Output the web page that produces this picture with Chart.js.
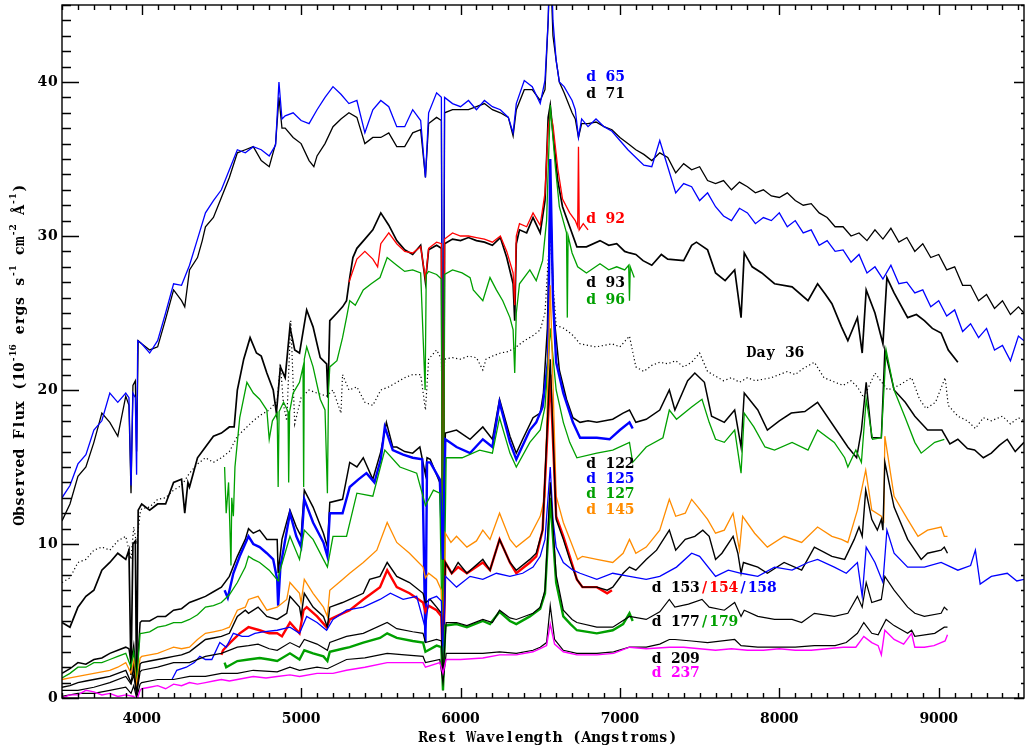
<!DOCTYPE html>
<html>
<head>
<meta charset="utf-8">
<title>Spectral evolution</title>
<script src="https://cdn.jsdelivr.net/npm/chart.js@4.4.1/dist/chart.umd.min.js"></script>
<style>
  html, body { margin: 0; padding: 0; background: #fff; }
  canvas { display: block; }
</style>
</head>
<body>
<canvas id="spectra" width="1025" height="749"></canvas>
<script>
// Spectra: [rest wavelength (A), flux (1e-16 erg/s/cm2/A)]
const d65 = [[3500,13.0],[3550,13.8],[3600,15.2],[3650,15.8],[3700,17.4],[3750,18.0],[3800,19.8],[3850,19.2],[3900,19.8],[3920,19.5],[3933,13.8],[3945,19.8],[3960,19.5],[3968,14.5],[3975,23.2],[4000,23.0],[4050,22.4],[4100,23.2],[4150,25.0],[4200,26.9],[4250,26.8],[4300,28.1],[4350,29.8],[4400,31.5],[4450,32.3],[4500,33.0],[4550,34.3],[4600,35.6],[4650,35.4],[4700,35.8],[4750,35.6],[4800,35.2],[4840,35.9],[4861,40.0],[4880,37.6],[4900,37.8],[4950,38.0],[5000,37.5],[5050,37.3],[5100,38.2],[5150,39.0],[5200,39.7],[5250,39.2],[5300,38.6],[5350,38.8],[5400,36.7],[5450,38.2],[5500,38.8],[5550,38.4],[5600,37.1],[5650,37.1],[5700,38.2],[5750,37.5],[5780,33.8],[5800,38.0],[5850,39.3],[5880,39.0],[5890,10.0],[5900,39.0],[5950,38.6],[6000,38.4],[6050,38.8],[6100,38.2],[6150,38.8],[6200,38.4],[6250,38.2],[6300,37.7],[6330,36.7],[6350,38.6],[6400,40.1],[6450,39.7],[6500,38.6],[6530,40.1],[6550,44.0],[6563,50.0],[6580,44.0],[6600,41.4],[6620,40.0],[6650,39.7],[6700,38.8],[6720,38.2],[6740,36.4],[6760,37.6],[6800,37.1],[6850,37.6],[6900,37.1],[6950,36.8],[7000,36.2],[7050,35.6],[7100,35.1],[7150,34.6],[7200,34.5],[7250,36.2],[7300,34.5],[7350,32.8],[7400,33.4],[7450,33.2],[7500,32.3],[7550,32.8],[7600,31.9],[7650,31.3],[7700,31.0],[7750,31.8],[7800,31.5],[7850,30.8],[7900,31.2],[7950,31.0],[8000,31.5],[8050,30.6],[8100,31.0],[8150,30.2],[8200,30.4],[8250,29.4],[8300,29.7],[8350,29.0],[8400,29.1],[8450,28.3],[8500,28.8],[8550,27.6],[8600,28.0],[8650,27.2],[8700,28.1],[8750,26.9],[8800,27.0],[8850,26.3],[8900,26.5],[8950,25.4],[9000,25.8],[9050,24.8],[9100,25.2],[9150,23.8],[9200,24.3],[9250,23.4],[9300,24.0],[9350,22.6],[9400,22.9],[9450,21.9],[9500,23.5],[9535,23.2]];

const d71 = [[3500,11.5],[3550,12.6],[3600,14.4],[3650,15.0],[3700,16.6],[3750,18.5],[3800,17.9],[3850,17.0],[3900,19.6],[3920,19.0],[3933,13.3],[3945,20.3],[3960,20.6],[3968,16.0],[3978,23.2],[4000,23.0],[4050,22.6],[4100,22.8],[4150,24.6],[4200,26.5],[4250,25.8],[4270,25.4],[4300,27.8],[4350,28.6],[4380,29.7],[4400,30.6],[4450,31.2],[4500,32.5],[4550,33.8],[4600,35.4],[4650,35.6],[4700,35.8],[4750,34.9],[4800,34.5],[4840,36.0],[4861,39.0],[4880,37.0],[4900,37.0],[4950,36.4],[5000,36.0],[5050,34.9],[5080,34.5],[5100,35.2],[5150,36.0],[5200,37.1],[5250,37.6],[5300,38.0],[5350,37.7],[5400,36.0],[5450,36.4],[5500,36.4],[5550,36.7],[5600,35.8],[5650,35.8],[5700,36.7],[5750,36.9],[5780,33.8],[5800,37.3],[5850,37.7],[5880,37.5],[5890,1.0],[5900,38.0],[5950,38.2],[6000,38.2],[6050,38.2],[6100,38.4],[6150,38.6],[6200,38.2],[6250,38.0],[6300,37.7],[6330,36.5],[6350,38.2],[6400,39.5],[6450,39.5],[6500,38.8],[6530,39.5],[6550,44.0],[6563,48.0],[6580,43.0],[6600,41.4],[6620,40.0],[6650,39.3],[6700,38.0],[6720,37.6],[6740,36.4],[6760,37.3],[6800,37.3],[6850,37.4],[6900,37.1],[6950,36.9],[7000,36.4],[7050,36.0],[7100,35.6],[7150,35.3],[7200,34.9],[7250,35.4],[7300,35.1],[7350,34.1],[7400,34.7],[7450,34.3],[7500,34.5],[7550,33.6],[7600,33.4],[7650,33.6],[7700,33.0],[7750,33.5],[7800,33.2],[7850,32.8],[7900,33.0],[7950,32.6],[8000,32.5],[8050,32.8],[8100,32.3],[8150,32.0],[8200,32.1],[8250,31.5],[8300,31.2],[8350,30.6],[8400,30.6],[8450,30.0],[8500,30.2],[8550,29.7],[8600,30.4],[8650,29.8],[8700,30.5],[8750,29.6],[8800,29.9],[8850,29.0],[8900,29.5],[8950,28.6],[9000,28.8],[9050,27.8],[9100,28.0],[9150,26.8],[9200,26.8],[9250,25.8],[9300,26.2],[9350,25.3],[9400,25.8],[9450,24.9],[9500,25.4],[9535,25.0]];

const day36 = [[3500,7.5],[3550,7.8],[3600,8.8],[3650,9.0],[3700,9.6],[3750,9.8],[3800,9.6],[3850,10.2],[3900,10.5],[3933,9.0],[3950,11.1],[3968,10.0],[3990,12.0],[4000,12.3],[4050,12.4],[4100,12.9],[4150,13.0],[4200,13.5],[4250,13.8],[4300,14.6],[4350,15.2],[4400,15.6],[4450,15.3],[4500,15.6],[4550,16.0],[4600,17.0],[4650,17.5],[4700,18.0],[4750,18.4],[4800,18.7],[4850,19.3],[4870,21.7],[4890,19.0],[4910,18.0],[4935,24.5],[4960,17.8],[5000,19.5],[5050,20.0],[5100,19.8],[5160,19.6],[5200,20.0],[5250,18.5],[5260,21.0],[5300,20.0],[5350,20.2],[5400,19.2],[5450,19.0],[5500,20.0],[5550,20.2],[5600,20.5],[5650,20.8],[5700,21.0],[5750,21.0],[5780,18.7],[5800,22.0],[5850,22.6],[5880,22.0],[5890,15.0],[5900,22.0],[5950,22.1],[6000,22.0],[6050,22.2],[6100,22.1],[6140,21.3],[6160,22.0],[6200,22.2],[6250,22.4],[6300,22.5],[6350,22.8],[6400,23.2],[6450,23.5],[6500,23.9],[6530,25.0],[6550,28.5],[6563,30.0],[6580,27.0],[6600,24.2],[6650,24.0],[6700,23.6],[6750,23.0],[6800,22.9],[6850,22.8],[6900,22.9],[6950,23.0],[7000,22.8],[7060,23.5],[7100,21.5],[7150,21.2],[7200,21.6],[7250,21.8],[7300,21.7],[7350,21.9],[7400,21.5],[7450,21.8],[7500,22.4],[7550,21.2],[7600,20.9],[7650,20.6],[7700,20.8],[7750,20.5],[7800,20.8],[7850,20.6],[7900,20.7],[7950,20.8],[8000,21.0],[8050,21.2],[8100,21.0],[8150,21.4],[8220,21.8],[8280,20.8],[8350,20.5],[8400,20.3],[8450,20.6],[8490,20.2],[8530,19.5],[8600,21.1],[8680,20.0],[8750,20.3],[8830,20.8],[8880,19.4],[8920,18.8],[8980,19.2],[9040,20.8],[9060,19.0],[9120,18.3],[9180,18.0],[9230,17.5],[9280,18.2],[9330,18.0],[9400,18.3],[9450,17.8],[9500,18.2],[9535,18.0]];

const d92 = [[5300,27.0],[5350,28.5],[5400,29.0],[5450,28.5],[5480,28.0],[5500,29.5],[5550,30.2],[5600,29.5],[5650,29.0],[5700,28.9],[5750,29.3],[5780,27.2],[5800,29.2],[5850,29.6],[5880,29.5],[5890,3.0],[5900,29.8],[5950,30.2],[6000,30.0],[6050,30.0],[6100,29.9],[6150,29.8],[6200,29.6],[6250,30.0],[6290,29.0],[6330,27.6],[6340,25.5],[6350,30.0],[6370,30.8],[6415,30.6],[6455,31.5],[6500,30.7],[6530,32.8],[6550,37.0],[6563,38.0],[6580,37.2],[6610,34.4],[6640,32.4],[6685,31.5],[6720,31.0],[6735,30.6],[6740,35.8],[6745,30.4],[6770,30.8],[6800,30.4]];

const d93 = [[3500,4.9],[3550,4.6],[3600,5.9],[3650,6.6],[3700,7.0],[3750,8.3],[3800,8.8],[3850,9.4],[3900,9.0],[3920,9.6],[3933,1.5],[3945,10.0],[3960,10.2],[3968,0.5],[3978,12.2],[4000,12.6],[4050,12.2],[4100,12.6],[4150,12.6],[4200,14.0],[4250,14.2],[4270,12.0],[4290,14.0],[4300,13.7],[4350,15.6],[4400,16.3],[4450,17.0],[4500,17.2],[4550,17.6],[4580,17.6],[4600,20.0],[4640,22.0],[4680,23.4],[4720,22.4],[4750,22.2],[4785,21.1],[4825,20.0],[4845,18.5],[4870,21.5],[4900,20.8],[4930,24.1],[4960,22.6],[4990,22.4],[5035,25.2],[5075,24.1],[5120,22.1],[5160,21.7],[5168,19.5],[5180,24.5],[5225,25.0],[5260,25.4],[5285,25.8],[5305,27.3],[5325,28.6],[5350,29.2],[5400,29.8],[5450,30.4],[5500,31.5],[5550,30.7],[5600,29.7],[5650,29.1],[5700,28.8],[5750,29.4],[5780,27.0],[5800,29.1],[5850,29.4],[5880,29.2],[5890,0.5],[5900,29.5],[5950,29.8],[6000,29.7],[6050,29.9],[6100,29.7],[6150,29.6],[6200,29.4],[6250,29.9],[6290,28.6],[6330,26.9],[6340,24.5],[6350,29.5],[6370,30.4],[6415,30.2],[6455,31.2],[6500,30.2],[6530,32.3],[6550,37.7],[6563,38.5],[6580,36.7],[6610,33.6],[6640,31.9],[6685,30.6],[6730,29.3],[6790,29.3],[6875,29.7],[6930,29.4],[6980,29.5],[7030,29.0],[7060,28.9],[7100,28.8],[7145,28.4],[7200,28.1],[7260,28.8],[7300,28.5],[7400,28.4],[7450,29.4],[7480,29.6],[7550,29.1],[7600,27.6],[7660,27.1],[7720,27.8],[7760,24.7],[7780,28.9],[7830,28.0],[7890,27.6],[7970,26.9],[8080,26.7],[8180,25.8],[8240,26.9],[8290,26.2],[8330,25.6],[8390,24.1],[8430,23.2],[8490,24.7],[8520,22.4],[8545,26.5],[8600,25.0],[8650,23.0],[8675,27.3],[8720,26.3],[8805,24.7],[8860,24.9],[8910,24.5],[8960,24.0],[9015,23.7],[9060,22.6],[9120,21.8]];

const d96 = [[4520,15.0],[4530,12.0],[4545,14.0],[4560,8.6],[4565,13.0],[4575,11.8],[4585,15.0],[4615,18.2],[4660,20.5],[4700,19.8],[4740,19.4],[4785,18.7],[4800,16.8],[4820,18.0],[4850,18.5],[4856,13.7],[4862,18.6],[4890,19.2],[4918,18.6],[4922,14.0],[4928,18.6],[4950,19.8],[4990,20.5],[5012,21.5],[5016,13.7],[5020,22.0],[5035,22.8],[5075,21.5],[5120,19.4],[5150,18.7],[5165,13.3],[5172,20.0],[5180,21.5],[5225,21.9],[5260,23.4],[5285,24.7],[5305,25.8],[5340,25.5],[5390,26.5],[5440,26.9],[5495,27.3],[5540,28.6],[5600,28.1],[5650,27.7],[5700,27.8],[5750,27.6],[5778,20.0],[5785,27.5],[5800,27.7],[5850,27.5],[5880,27.2],[5890,0.8],[5900,27.5],[5950,27.8],[6010,27.6],[6060,27.3],[6080,26.5],[6140,25.8],[6185,27.3],[6225,26.5],[6265,25.8],[6310,24.7],[6330,23.9],[6340,21.1],[6350,25.0],[6370,26.9],[6435,27.8],[6475,27.1],[6515,28.4],[6540,31.0],[6563,38.5],[6595,34.5],[6620,31.9],[6665,30.2],[6670,24.7],[6675,30.0],[6700,28.9],[6735,28.0],[6790,27.6],[6875,28.2],[6930,27.8],[6980,28.0],[7030,27.8],[7055,28.1],[7060,25.8],[7065,28.0],[7090,27.3]];

const d122 = [[3500,1.6],[3550,1.9],[3600,2.3],[3650,2.2],[3700,2.5],[3750,2.6],[3800,2.9],[3850,3.1],[3900,3.3],[3920,3.2],[3933,2.3],[3950,3.4],[3968,1.2],[3990,4.9],[4000,5.0],[4050,5.0],[4100,5.3],[4150,5.3],[4200,5.7],[4250,5.8],[4300,6.2],[4350,6.4],[4400,6.6],[4450,6.9],[4500,7.2],[4550,7.9],[4600,9.2],[4650,10.3],[4670,11.0],[4700,10.7],[4740,10.9],[4785,10.3],[4850,10.3],[4856,8.1],[4880,10.3],[4930,12.2],[4970,11.1],[5000,10.5],[5020,13.5],[5075,12.4],[5140,10.7],[5165,9.8],[5180,12.7],[5260,12.9],[5305,15.3],[5350,15.0],[5390,15.6],[5450,14.2],[5500,16.0],[5535,17.9],[5575,16.3],[5600,16.3],[5650,16.0],[5700,15.9],[5745,16.3],[5780,14.5],[5790,15.6],[5810,15.5],[5870,14.0],[5890,9.0],[5905,17.2],[5975,17.4],[6060,16.8],[6140,17.6],[6200,16.8],[6245,19.4],[6310,17.0],[6350,15.9],[6390,16.8],[6455,18.2],[6500,18.5],[6520,19.8],[6545,24.0],[6563,33.0],[6585,25.0],[6620,21.3],[6665,19.4],[6705,18.2],[6750,17.9],[6800,18.0],[6855,17.9],[6955,18.1],[7020,18.5],[7060,18.7],[7100,17.9],[7165,18.1],[7250,18.7],[7310,20.0],[7345,18.7],[7425,20.6],[7470,21.1],[7530,20.5],[7575,18.3],[7655,17.9],[7720,18.7],[7760,16.3],[7780,19.8],[7865,18.7],[7925,17.4],[8000,18.0],[8075,18.5],[8160,18.6],[8240,19.2],[8345,17.6],[8430,16.3],[8485,15.6],[8515,17.4],[8545,20.5],[8580,16.9],[8640,16.9],[8662,22.6],[8720,20.0],[8790,19.2],[8850,18.3],[8930,17.4],[9020,17.4],[9070,16.5],[9120,16.8],[9180,16.2],[9225,16.1],[9280,15.6],[9330,15.9],[9380,16.4],[9430,16.8],[9480,16.0],[9535,16.6]];

const d125 = [[4520,7.0],[4540,6.5],[4575,8.1],[4615,9.2],[4670,10.5],[4700,10.0],[4740,9.8],[4785,9.4],[4825,9.0],[4850,7.7],[4856,6.0],[4870,8.5],[4930,12.0],[4970,10.5],[5000,9.8],[5020,12.9],[5075,11.4],[5140,10.1],[5165,9.2],[5180,12.0],[5260,12.0],[5305,13.7],[5360,14.2],[5410,14.6],[5460,14.0],[5500,15.5],[5525,17.6],[5575,16.1],[5640,15.8],[5700,15.6],[5760,15.5],[5780,3.6],[5790,15.3],[5810,15.3],[5870,14.2],[5888,9.0],[5905,16.8],[5975,16.3],[6060,15.9],[6140,16.8],[6200,16.3],[6245,19.2],[6310,16.6],[6350,15.5],[6435,17.4],[6475,17.9],[6515,18.9],[6550,22.0],[6563,35.0],[6580,26.0],[6600,21.8],[6645,19.8],[6705,17.9],[6750,16.9],[6800,16.9],[6855,16.9],[6935,16.8],[7000,17.4],[7060,17.9],[7080,17.5]];

const d127 = [[3500,1.3],[3550,1.6],[3600,2.0],[3650,2.0],[3700,2.3],[3750,2.3],[3800,2.5],[3850,2.7],[3900,2.9],[3933,2.0],[3950,3.0],[3968,1.0],[3990,4.2],[4000,4.2],[4050,4.3],[4100,4.6],[4150,4.7],[4200,4.9],[4250,4.9],[4300,5.1],[4350,5.4],[4400,5.9],[4450,6.0],[4500,6.2],[4550,6.7],[4600,7.5],[4650,8.5],[4670,9.2],[4700,9.0],[4740,8.8],[4800,8.3],[4856,7.6],[4860,8.0],[4930,10.5],[4990,9.0],[5020,10.9],[5075,10.3],[5140,9.0],[5165,8.5],[5200,10.5],[5285,10.5],[5350,13.3],[5450,13.1],[5525,16.1],[5620,15.0],[5725,14.6],[5780,12.5],[5830,13.5],[5870,13.3],[5890,1.0],[5910,15.6],[6010,15.6],[6120,16.1],[6200,15.9],[6245,18.2],[6310,15.9],[6350,15.0],[6435,16.6],[6500,17.4],[6530,18.9],[6563,24.0],[6600,20.0],[6645,17.9],[6685,16.6],[6730,15.6],[6855,15.9],[6955,16.1],[7060,16.6],[7080,15.3],[7165,16.3],[7270,16.9],[7310,18.7],[7355,18.1],[7450,18.9],[7515,19.4],[7560,17.9],[7600,16.8],[7655,16.6],[7720,17.4],[7760,14.6],[7780,18.5],[7840,17.6],[7910,16.3],[7970,16.1],[8080,16.6],[8180,16.1],[8240,17.4],[8345,16.6],[8410,15.6],[8430,15.0],[8480,16.1],[8515,15.3],[8545,19.4],[8585,16.8],[8640,16.9],[8670,22.6],[8720,20.0],[8790,18.2],[8850,16.6],[8890,15.9],[8975,16.6],[9035,16.8]];

const d145 = [[3500,1.2],[3550,1.3],[3600,1.4],[3650,1.5],[3700,1.6],[3750,1.7],[3800,1.8],[3850,2.0],[3900,2.3],[3933,1.6],[3950,2.4],[3968,0.8],[3990,2.6],[4000,2.7],[4050,2.8],[4100,2.9],[4150,3.1],[4200,3.3],[4250,3.2],[4300,3.3],[4350,3.8],[4400,4.2],[4450,4.3],[4500,4.4],[4550,4.6],[4600,5.7],[4650,5.9],[4670,6.4],[4730,6.6],[4785,5.7],[4850,5.9],[4910,6.4],[4930,7.5],[4990,6.8],[5000,6.2],[5020,7.7],[5075,6.8],[5140,5.9],[5165,5.3],[5180,7.0],[5260,7.7],[5305,8.1],[5390,8.8],[5475,9.6],[5540,11.4],[5600,10.1],[5680,9.4],[5765,8.5],[5780,7.8],[5800,8.1],[5850,7.7],[5880,7.0],[5890,1.0],[5905,10.7],[5940,10.1],[5975,10.5],[6040,9.8],[6100,10.2],[6140,10.9],[6185,10.3],[6245,12.0],[6310,10.3],[6350,9.8],[6435,10.5],[6500,11.8],[6530,13.1],[6563,26.8],[6600,13.1],[6645,11.4],[6705,9.8],[6735,9.0],[6765,9.2],[6855,9.0],[6955,8.8],[7020,9.4],[7060,10.3],[7100,9.4],[7165,9.8],[7250,10.9],[7310,12.9],[7350,11.8],[7410,12.0],[7450,12.9],[7490,12.4],[7550,11.6],[7600,10.7],[7655,10.9],[7710,12.0],[7750,9.6],[7770,11.8],[7845,10.7],[7925,9.8],[8030,10.5],[8140,10.1],[8240,11.1],[8330,10.5],[8390,10.3],[8430,10.1],[8490,12.2],[8542,14.8],[8580,12.2],[8640,11.8],[8655,11.5],[8662,17.0],[8720,13.1],[8805,11.6],[8870,10.5],[8930,10.9],[9015,11.1],[9035,10.5],[9055,10.5]];

const d153 = [[3500,0.7],[3550,0.8],[3600,1.0],[3650,1.1],[3700,1.2],[3750,1.3],[3800,1.4],[3850,1.6],[3900,1.8],[3933,1.0],[3950,2.0],[3968,0.3],[3990,2.2],[4000,2.3],[4050,2.4],[4100,2.5],[4150,2.6],[4200,2.7],[4250,2.8],[4300,3.0],[4350,3.4],[4400,3.8],[4450,3.9],[4500,4.0],[4550,4.2],[4600,5.3],[4650,5.7],[4670,5.5],[4730,5.9],[4785,5.3],[4850,5.1],[4910,5.5],[4930,6.6],[4990,5.9],[5000,5.3],[5020,6.8],[5075,5.9],[5140,5.3],[5165,4.6],[5180,5.9],[5260,6.2],[5305,6.4],[5390,6.8],[5430,7.7],[5495,7.9],[5540,8.8],[5600,7.9],[5680,7.5],[5765,6.8],[5780,6.2],[5810,6.4],[5850,5.9],[5880,5.5],[5890,0.5],[5905,8.8],[5945,8.1],[5985,8.8],[6040,8.1],[6140,9.0],[6185,8.3],[6245,10.3],[6310,8.8],[6350,8.3],[6435,9.0],[6475,9.4],[6515,10.9],[6563,22.0],[6600,11.6],[6645,10.3],[6685,9.0],[6730,7.7],[6765,7.2],[6855,7.2],[6920,7.0],[6955,7.2],[7020,8.1],[7060,8.5],[7100,8.3],[7165,9.0],[7230,9.6],[7310,10.9],[7350,9.6],[7410,10.3],[7470,10.5],[7520,10.9],[7560,10.5],[7600,9.0],[7640,9.4],[7710,10.5],[7740,9.4],[7760,8.1],[7775,8.8],[7865,8.5],[7925,8.1],[8030,8.8],[8140,8.3],[8220,9.8],[8330,9.2],[8410,9.0],[8470,10.3],[8500,11.1],[8520,10.5],[8542,13.5],[8580,11.6],[8615,10.9],[8640,11.6],[8650,10.9],[8662,15.3],[8720,12.4],[8805,10.3],[8890,9.0],[8930,9.4],[9015,9.6],[9035,9.8],[9055,9.4]];

const d154 = [[4500,2.8],[4510,3.1],[4555,3.6],[4615,4.2],[4670,4.6],[4740,4.4],[4800,4.2],[4850,4.2],[4880,4.0],[4930,4.9],[4990,4.2],[5015,5.7],[5035,5.9],[5100,5.3],[5160,4.6],[5180,5.1],[5260,5.5],[5305,5.7],[5390,6.4],[5495,7.2],[5540,8.3],[5600,7.2],[5680,6.8],[5765,6.2],[5780,5.6],[5800,6.0],[5850,5.7],[5880,5.3],[5890,1.5],[5905,8.8],[5945,8.1],[5985,8.5],[6040,8.1],[6140,8.8],[6185,8.3],[6245,10.3],[6310,8.8],[6350,8.1],[6435,8.8],[6475,9.2],[6515,10.9],[6563,21.0],[6600,11.8],[6645,10.5],[6685,9.2],[6730,7.7],[6765,7.2],[6855,7.2],[6920,6.8],[6950,7.0]];

const d158 = [[4190,1.2],[4220,1.8],[4280,2.0],[4330,2.3],[4365,2.7],[4400,2.5],[4440,2.5],[4490,3.6],[4530,3.3],[4575,4.2],[4630,4.0],[4670,4.0],[4710,4.2],[4760,4.3],[4850,4.4],[4930,4.6],[4990,4.2],[5035,5.3],[5100,4.9],[5160,4.4],[5200,5.1],[5285,5.7],[5390,5.9],[5495,6.4],[5560,6.8],[5640,6.4],[5725,6.6],[5780,4.5],[5800,6.4],[5850,6.6],[5880,6.3],[5890,2.0],[5905,7.9],[5975,7.2],[6060,7.9],[6140,7.7],[6225,8.1],[6310,7.9],[6390,8.1],[6455,8.5],[6500,9.2],[6530,10.3],[6563,15.0],[6580,11.6],[6600,9.8],[6645,8.8],[6705,8.3],[6750,8.1],[6855,7.7],[6955,8.1],[7060,7.9],[7165,7.7],[7250,7.9],[7355,8.5],[7450,9.4],[7500,9.2],[7600,7.9],[7680,8.3],[7760,8.1],[7865,7.9],[7970,8.5],[8080,8.3],[8180,8.8],[8240,9.0],[8345,8.5],[8420,8.1],[8490,8.8],[8520,6.6],[8545,9.8],[8600,8.8],[8650,7.5],[8675,10.9],[8720,9.4],[8805,8.5],[8910,8.5],[9015,8.8],[9120,8.3],[9200,8.6],[9230,9.6],[9260,7.4],[9330,7.9],[9430,8.1],[9490,7.6],[9535,7.7]];

const d177 = [[3500,0.5],[3600,0.5],[3700,0.7],[3800,1.0],[3900,1.4],[3933,0.9],[3950,1.5],[3968,0.2],[3990,1.7],[4000,1.8],[4100,2.0],[4200,2.3],[4300,2.3],[4400,2.7],[4500,2.9],[4600,3.3],[4670,3.4],[4730,3.5],[4800,3.2],[4850,3.1],[4930,3.6],[4990,3.3],[5020,3.8],[5100,3.5],[5165,3.1],[5180,3.6],[5285,4.0],[5390,4.2],[5540,4.9],[5600,4.5],[5700,4.3],[5765,4.2],[5780,3.6],[5850,3.8],[5880,3.7],[5890,1.5],[5910,4.9],[5975,4.9],[6040,4.7],[6140,5.1],[6200,4.9],[6245,5.7],[6310,5.2],[6350,5.1],[6455,5.5],[6500,5.9],[6530,7.0],[6563,14.0],[6600,8.0],[6645,5.7],[6700,5.1],[6730,4.9],[6855,4.6],[6955,4.6],[7060,5.3],[7165,5.1],[7250,5.6],[7310,6.4],[7345,5.9],[7430,6.1],[7515,6.4],[7560,5.9],[7655,5.7],[7720,6.2],[7760,5.3],[7780,5.7],[7865,5.3],[7970,5.1],[8080,5.1],[8140,4.9],[8220,5.5],[8345,5.3],[8430,5.5],[8490,6.6],[8520,5.9],[8545,7.5],[8580,6.2],[8640,6.4],[8662,7.9],[8720,7.0],[8805,5.9],[8850,5.5],[8910,5.3],[9015,5.5],[9035,5.9],[9055,5.7]];

const d179 = [[4520,2.3],[4530,2.0],[4600,2.4],[4670,2.5],[4740,2.6],[4800,2.5],[4850,2.4],[4930,2.9],[4990,2.5],[5020,3.1],[5075,2.9],[5140,2.7],[5165,2.4],[5180,3.0],[5260,3.2],[5305,3.3],[5390,3.6],[5495,3.9],[5540,4.2],[5600,3.9],[5700,3.7],[5765,3.6],[5780,3.0],[5850,3.4],[5880,3.3],[5890,0.5],[5905,4.7],[5975,4.8],[6040,4.6],[6140,5.0],[6185,4.8],[6245,5.6],[6310,5.0],[6350,4.8],[6435,5.3],[6500,5.8],[6530,6.8],[6563,13.0],[6600,7.5],[6645,5.3],[6690,4.8],[6730,4.4],[6855,4.2],[6955,4.4],[7020,4.8],[7060,5.5],[7080,5.0]];

const d209 = [[3500,0.1],[3600,0.3],[3700,0.3],[3800,0.5],[3900,0.7],[3933,0.3],[3950,0.8],[3968,0.0],[3990,0.9],[4000,1.0],[4100,1.2],[4200,1.2],[4300,1.4],[4400,1.4],[4500,1.6],[4600,1.6],[4700,1.8],[4850,1.7],[4930,2.0],[4990,1.8],[5100,2.0],[5165,1.9],[5285,2.5],[5400,2.6],[5540,2.9],[5650,2.8],[5765,2.7],[5780,2.3],[5870,2.5],[5890,1.0],[5910,2.9],[6000,2.9],[6140,2.9],[6245,3.0],[6350,2.9],[6455,3.1],[6500,3.3],[6540,3.6],[6563,6.0],[6590,3.8],[6645,3.1],[6730,2.9],[6855,2.9],[6960,3.0],[7060,3.3],[7165,3.3],[7250,3.5],[7310,3.8],[7345,3.8],[7450,3.7],[7550,3.6],[7720,3.8],[7760,3.4],[7865,3.3],[7970,3.3],[8100,3.3],[8220,3.4],[8350,3.4],[8420,3.6],[8490,4.2],[8530,4.9],[8580,4.2],[8620,4.1],[8670,5.1],[8720,4.7],[8805,4.2],[8830,4.4],[8850,4.0],[8975,4.2],[9035,4.6],[9055,4.6]];

const d237 = [[3500,0.0],[3550,0.2],[3600,0.2],[3650,0.5],[3700,0.4],[3750,0.2],[3800,0.3],[3850,0.1],[3900,0.2],[3950,0.1],[3968,-0.2],[3990,0.5],[4000,0.6],[4050,0.7],[4100,0.8],[4150,0.6],[4200,0.9],[4250,0.8],[4300,1.0],[4350,0.9],[4400,1.0],[4450,1.1],[4500,1.2],[4550,1.1],[4600,1.2],[4650,1.3],[4700,1.4],[4780,1.3],[4850,1.4],[4930,1.5],[4990,1.4],[5100,1.6],[5200,1.6],[5285,1.8],[5400,2.0],[5540,2.3],[5650,2.3],[5765,2.3],[5780,2.0],[5870,2.3],[5890,1.6],[5910,2.5],[6000,2.5],[6140,2.6],[6245,2.8],[6350,2.8],[6455,3.0],[6500,3.2],[6540,3.4],[6563,4.8],[6590,3.5],[6645,3.0],[6730,2.8],[6855,2.8],[6960,2.9],[7060,3.3],[7165,3.2],[7310,3.3],[7400,3.3],[7500,3.2],[7600,3.1],[7700,3.2],[7800,3.1],[7900,3.1],[8000,3.2],[8100,3.1],[8200,3.1],[8300,3.2],[8400,3.3],[8480,3.3],[8530,4.0],[8580,3.6],[8620,3.4],[8640,2.8],[8662,4.4],[8720,3.8],[8780,3.5],[8830,4.2],[8850,3.3],[8910,3.3],[8970,3.4],[9015,3.6],[9040,3.7],[9055,4.1]];

// axis ticks
const xMajorTicks = [4000, 5000, 6000, 7000, 8000, 9000];
const yMajorTicks = [0, 10, 20, 30, 40];

const BLUE = '#0000ff', BLACK = '#000000', RED = '#ff0000', GREEN = '#00a000', ORANGE = '#ff8c00', MAGENTA = '#ff00ff';

// bottom-most first
const series = [
    { label: 'Day 36', data: day36, color: BLACK, width: 1.2, dash: [1.2, 2.6] },
    { label: 'd 71', data: d71, color: BLACK, width: 1.3 },
    { label: 'd 65', data: d65, color: BLUE, width: 1.3 },
    { label: 'd 93', data: d93, color: BLACK, width: 1.7 },
    { label: 'd 92', data: d92, color: RED, width: 1.3 },
    { label: 'd 96', data: d96, color: GREEN, width: 1.3 },
    { label: 'd 122', data: d122, color: BLACK, width: 1.5 },
    { label: 'd 125', data: d125, color: BLUE, width: 2.4 },
    { label: 'd 127', data: d127, color: GREEN, width: 1.3 },
    { label: 'd 145', data: d145, color: ORANGE, width: 1.3 },
    { label: 'd 154', data: d154, color: RED, width: 2.4 },
    { label: 'd 153', data: d153, color: BLACK, width: 1.4 },
    { label: 'd 158', data: d158, color: BLUE, width: 1.3 },
    { label: 'd 179', data: d179, color: GREEN, width: 2.4 },
    { label: 'd 177', data: d177, color: BLACK, width: 1.2 },
    { label: 'd 209', data: d209, color: BLACK, width: 1.2 },
    { label: 'd 237', data: d237, color: MAGENTA, width: 1.4 },
];

// epoch labels placed in data coordinates
const notes = [
    { x: 6790, y: 40.3, parts: [['d 65', BLUE]] },
    { x: 6790, y: 39.2, parts: [['d 71', BLACK]] },
    { x: 6790, y: 31.1, parts: [['d 92', RED]] },
    { x: 6790, y: 26.9, parts: [['d 93', BLACK]] },
    { x: 6790, y: 25.8, parts: [['d 96', GREEN]] },
    { x: 7795, y: 22.4, parts: [['Day 36', BLACK]] },
    { x: 6790, y: 15.2, parts: [['d 122', BLACK]] },
    { x: 6790, y: 14.2, parts: [['d 125', BLUE]] },
    { x: 6790, y: 13.2, parts: [['d 127', GREEN]] },
    { x: 6790, y: 12.2, parts: [['d 145', ORANGE]] },
    { x: 7200, y: 7.1, parts: [['d 153', BLACK], ['/154', RED], ['/158', BLUE]] },
    { x: 7200, y: 4.9, parts: [['d 177', BLACK], ['/179', GREEN]] },
    { x: 7200, y: 2.5, parts: [['d 209', BLACK]] },
    { x: 7200, y: 1.6, parts: [['d 237', MAGENTA]] },
];

const FONT = 'bold 14px "DejaVu Serif"';
const SUP_FONT = 'bold 9px "DejaVu Serif"';
const PITCH = 9.6;

// fixed-pitch text, one glyph per cell; returns the x after the last cell
function drawMono(ctx, text, x, y, color, font, pitch) {
    ctx.font = font || FONT;
    pitch = pitch || PITCH;
    ctx.fillStyle = color || BLACK;
    ctx.textAlign = 'center';
    ctx.textBaseline = 'middle';
    for (let i = 0; i < text.length; i++) {
        const ch = text[i];
        if (ch === ' ') continue;
        const w = ctx.measureText(ch).width;
        const sx = Math.min(1, (pitch + 0.6) / w);
        ctx.save();
        ctx.translate(x + pitch * (i + 0.5), y);
        ctx.scale(sx, 1);
        ctx.fillText(ch, 0, 0);
        ctx.restore();
    }
    return x + pitch * text.length;
}

const axesPlugin = {
    id: 'axesPlugin',
    afterDatasetsDraw(chart) {
        const ctx = chart.ctx;
        const { left, right, top, bottom } = chart.chartArea;
        const xs = chart.scales.x, ys = chart.scales.y;
        ctx.save();
        ctx.strokeStyle = BLACK;
        ctx.lineWidth = 1.4;
        ctx.strokeRect(left, top, right - left, bottom - top);

        // inward ticks on all four sides
        ctx.beginPath();
        for (let v = 3500; v <= 9500; v += 100) {
            const px = Math.round(xs.getPixelForValue(v)) + 0.5;
            const major = v % 1000 === 0;
            ctx.moveTo(px, bottom); ctx.lineTo(px, bottom - (major ? 10 : 5));
            ctx.moveTo(px, top); ctx.lineTo(px, top + (major ? 10 : 5));
        }
        for (let v = 0; v <= 45; v += 1) {
            const py = Math.round(ys.getPixelForValue(v)) + 0.5;
            const major = v % 10 === 0;
            ctx.moveTo(left, py); ctx.lineTo(left + (major ? 17 : 9), py);
            ctx.moveTo(right, py); ctx.lineTo(right - (major ? 10 : 3), py);
        }
        ctx.stroke();

        // tick labels
        xMajorTicks.forEach(v => {
            const s = String(v);
            drawMono(ctx, s, xs.getPixelForValue(v) - s.length * PITCH / 2, bottom + 21);
        });
        yMajorTicks.forEach(v => {
            const s = String(v);
            drawMono(ctx, s, left - 4 - s.length * 10.5, ys.getPixelForValue(v) + 0.5, BLACK, FONT, 10.5);
        });

        // axis titles
        const xt = 'Rest Wavelength (Angstroms)';
        drawMono(ctx, xt, 548 - xt.length * PITCH / 2, bottom + 40);

        const segs = [
            ['Observed Flux (10', false], ['-16', true], [' ergs s', false], ['-1', true],
            [' cm', false], ['-2', true], [' \u00c5', false], ['-1', true], [')', false],
        ];
        let len = 0;
        segs.forEach(([t, sup]) => { len += t.length * (sup ? 6 : PITCH); });
        ctx.save();
        ctx.translate(20, (top + bottom) / 2 + 3);
        ctx.rotate(-Math.PI / 2);
        let cx = -len / 2;
        segs.forEach(([t, sup]) => {
            cx = sup ? drawMono(ctx, t, cx, -6, BLACK, SUP_FONT, 6) : drawMono(ctx, t, cx, 0);
        });
        ctx.restore();

        // epoch labels
        notes.forEach(n => {
            let cx2 = xs.getPixelForValue(n.x);
            const cy = ys.getPixelForValue(n.y);
            n.parts.forEach(([t, c]) => { cx2 = drawMono(ctx, t, cx2, cy, c); });
        });
        ctx.restore();
    }
};

const datasets = series.map((s, i) => ({
    label: s.label,
    data: s.data.map(([x, y]) => ({ x, y })),
    borderColor: s.color,
    borderWidth: s.width,
    borderDash: s.dash || [],
    pointRadius: 0,
    tension: 0,
    fill: false,
    order: series.length - i,
}));

new Chart(document.getElementById('spectra'), {
    type: 'line',
    data: { datasets },
    options: {
        responsive: false,
        animation: false,
        devicePixelRatio: 1,
        layout: { padding: { left: 62, right: 1, top: 5, bottom: 51 } },
        scales: {
            x: { type: 'linear', min: 3500, max: 9535, display: false },
            y: { type: 'linear', min: 0, max: 45, display: false },
        },
        plugins: {
            legend: { display: false },
            tooltip: { enabled: false },
        },
    },
    plugins: [axesPlugin],
});
</script>
</body>
</html>
